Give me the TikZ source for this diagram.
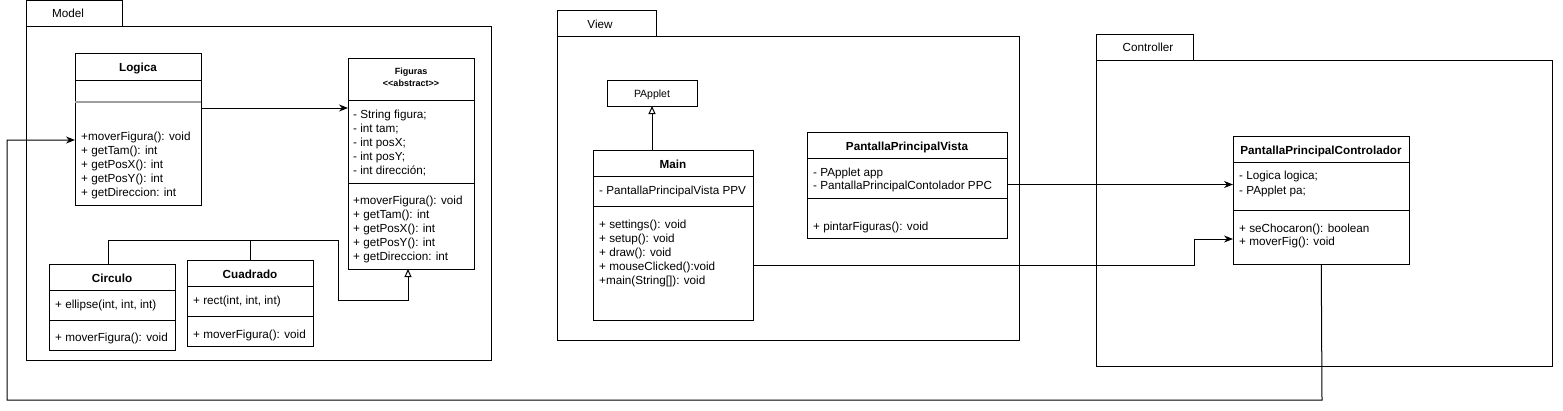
\documentclass[tikz,border=0pt]{standalone}
\usepackage{fontspec}
\setmainfont{Liberation Sans}
\usetikzlibrary{arrows.meta}
\begin{document}
\begin{tikzpicture}[x=1pt,y=-1pt,
  box/.style={draw, line width=1pt, anchor=north west, inner sep=0pt, outer sep=0pt, fill=white},
  pkg/.style={draw, line width=1pt, anchor=north west, inner sep=0pt, outer sep=0pt},
  txt/.style={anchor=base west, inner sep=0pt, font=\fontsize{11.7}{14}\selectfont},
  hdr/.style={anchor=base, inner sep=0pt, font=\bfseries\fontsize{11.7}{14}\selectfont},
  plab/.style={anchor=base, inner sep=0pt, font=\fontsize{11.7}{14}\selectfont},
  sep/.style={line width=1pt},
  conn/.style={line width=1pt, -{Stealth[length=9pt,width=7pt]}},
  inh/.style={line width=1pt, -{Triangle[open,length=8pt,width=7pt,fill=white]}},
  wire/.style={line width=1pt}]
\useasboundingbox (0,0) rectangle (1563,410);

% ---------- packages ----------
\node[pkg, minimum width=96pt, minimum height=26pt] (modeltab) at (26,0.5) {};
\node[pkg, minimum width=465pt, minimum height=334pt] (model) at (26,26) {};
\node[plab] (modellab) at (68,17) {Model};

\node[pkg, minimum width=99pt, minimum height=26pt] (viewtab) at (557,10) {};
\node[pkg, minimum width=462pt, minimum height=304pt] (view) at (557,36) {};
\node[plab] (viewlab) at (600,28) {View};

\node[pkg, minimum width=97pt, minimum height=26pt] (ctrltab) at (1096,34) {};
\node[pkg, minimum width=456pt, minimum height=306pt] (ctrl) at (1096,60) {};
\node[plab] (ctrllab) at (1148,51.5) {Controller};

% ---------- class boxes ----------
\node[box, minimum width=126pt, minimum height=152pt] (logica) at (75,53) {};
\node[box, minimum width=126pt, minimum height=211pt] (figuras) at (348,58) {};
\node[box, minimum width=126pt, minimum height=86pt] (circulo) at (49,264) {};
\node[box, minimum width=126pt, minimum height=86pt] (cuadrado) at (187,260) {};
\node[box, minimum width=90pt, minimum height=26pt] (papplet) at (607,80) {};
\node[box, minimum width=160pt, minimum height=170pt] (main) at (593,150) {};
\node[box, minimum width=200pt, minimum height=106pt] (ppv) at (807.5,132.5) {};
\node[box, minimum width=176.5pt, minimum height=128pt] (ppc) at (1233,136) {};

% ---------- connectors ----------
\draw[conn] (logica.east |- 0,108) -- (figuras.west |- 0,108);

\coordinate (loopA) at (1322,400);
\coordinate (loopB) at (7,400);
\coordinate (loopC) at (7,140);
\draw[conn] (ppc.south) -- (loopA) -- (loopB) -- (loopC) -- (logica.west |- loopC);

\draw[conn] (ppv.east |- 0,184.5) -- (ppc.west |- 0,184.5);

\coordinate (mbend) at (1194,239);
\draw[conn] (main.east |- 0,265.5) -| (mbend) -- (ppc.west |- mbend);

\draw[inh] (papplet.south |- main.north) -- (papplet.south);

\coordinate (hA) at (108,240);
\coordinate (hB) at (338,240);
\coordinate (hC) at (338,300);
\coordinate (hD) at (408,300);
\draw[wire] (circulo.north -| hA) -- (hA) -- (hB);
\draw[wire] (cuadrado.north) -- (cuadrado.north |- hA);
\draw[inh] (hB) -- (hC) -- (hD) -- (figuras.south -| hD);

% ---------- Logica ----------
\node[hdr] (logicah) at (138,71) {Logica};
\draw[sep] (logica.west |- 0,80) -- (logica.east |- 0,80);
\draw[line width=1.3pt, gray!75] (logica.west |- 0,102) -- (logica.east |- 0,102);
\node[txt] (lm1) at (81,140.7) {+moverFigura(): void};
\node[txt] (lm2) at (81,154.7) {+ getTam(): int};
\node[txt] (lm3) at (81,168.7) {+ getPosX(): int};
\node[txt] (lm4) at (81,182.7) {+ getPosY(): int};
\node[txt] (lm5) at (81,196.7) {+ getDireccion: int};

% ---------- Figuras ----------
\node[anchor=base, inner sep=0pt, font=\bfseries\fontsize{9}{11}\selectfont] (figh1) at (411,74.5) {Figuras};
\node[anchor=base, inner sep=0pt, font=\bfseries\fontsize{9}{11}\selectfont] (figh2) at (411,86) {<{}<abstract>{}>};
\draw[sep] (figuras.west |- 0,100) -- (figuras.east |- 0,100);
\node[txt] (fa1) at (353,118) {- String figura;};
\node[txt] (fa2) at (353,132) {- int tam;};
\node[txt] (fa3) at (353,146) {- int posX;};
\node[txt] (fa4) at (353,160) {- int posY;};
\node[txt] (fa5) at (353,174) {- int dirección;};
\draw[sep] (figuras.west |- 0,183) -- (figuras.east |- 0,183);
\node[txt] (fm1) at (353,204) {+moverFigura(): void};
\node[txt] (fm2) at (353,218) {+ getTam(): int};
\node[txt] (fm3) at (353,232) {+ getPosX(): int};
\node[txt] (fm4) at (353,246) {+ getPosY(): int};
\node[txt] (fm5) at (353,260) {+ getDireccion: int};

% ---------- Circulo ----------
\node[hdr] (circh) at (112,282) {Circulo};
\draw[sep] (circulo.west |- 0,290) -- (circulo.east |- 0,290);
\node[txt] (ca1) at (55,308.7) {+ ellipse(int, int, int)};
\draw[sep] (circulo.west |- 0,320) -- (circulo.east |- 0,320);
\node[txt] (cm1) at (55,341.3) {+ moverFigura(): void};

% ---------- Cuadrado ----------
\node[hdr] (cuadh) at (250,278) {Cuadrado};
\draw[sep] (cuadrado.west |- 0,286) -- (cuadrado.east |- 0,286);
\node[txt] (qa1) at (193,304) {+ rect(int, int, int)};
\draw[sep] (cuadrado.west |- 0,316) -- (cuadrado.east |- 0,316);
\node[txt] (qm1) at (193,338) {+ moverFigura(): void};

% ---------- PApplet ----------
\node[anchor=base, inner sep=0pt, font=\fontsize{10.5}{12}\selectfont] (pappleth) at (652,97) {PApplet};

% ---------- Main ----------
\node[hdr] (mainh) at (673,168) {Main};
\draw[sep] (main.west |- 0,176) -- (main.east |- 0,176);
\node[txt] (ma1) at (599,194) {- PantallaPrincipalVista PPV};
\draw[sep] (main.west |- 0,206) -- (main.east |- 0,206);
\node[txt] (mm1) at (599,228) {+ settings(): void};
\node[txt] (mm2) at (599,242) {+ setup(): void};
\node[txt] (mm3) at (599,256) {+ draw(): void};
\node[txt] (mm4) at (599,270) {+ mouseClicked():void};
\node[txt] (mm5) at (599,284) {+main(String[]): void};

% ---------- PantallaPrincipalVista ----------
\node[hdr] (ppvh) at (907,150) {PantallaPrincipalVista};
\draw[sep] (ppv.west |- 0,158.3) -- (ppv.east |- 0,158.3);
\node[txt] (pa1) at (813,176) {- PApplet app};
\node[txt] (pa2) at (813,189.3) {- PantallaPrincipalContolador PPC};
\draw[sep] (ppv.west |- 0,198.7) -- (ppv.east |- 0,198.7);
\node[txt] (pm1) at (813,230) {+ pintarFiguras(): void};

% ---------- PantallaPrincipalControlador ----------
\node[hdr] (ppch) at (1321,154) {PantallaPrincipalControlador};
\draw[sep] (ppc.west |- 0,162.7) -- (ppc.east |- 0,162.7);
\node[txt] (ca1b) at (1239,179.7) {- Logica logica;};
\node[txt] (ca2b) at (1239,194) {- PApplet pa;};
\draw[sep] (ppc.west |- 0,210.3) -- (ppc.east |- 0,210.3);
\node[txt] (cm1b) at (1239,232) {+ seChocaron(): boolean};
\node[txt] (cm2b) at (1239,245.7) {+ moverFig(): void};
\end{tikzpicture}
\end{document}
